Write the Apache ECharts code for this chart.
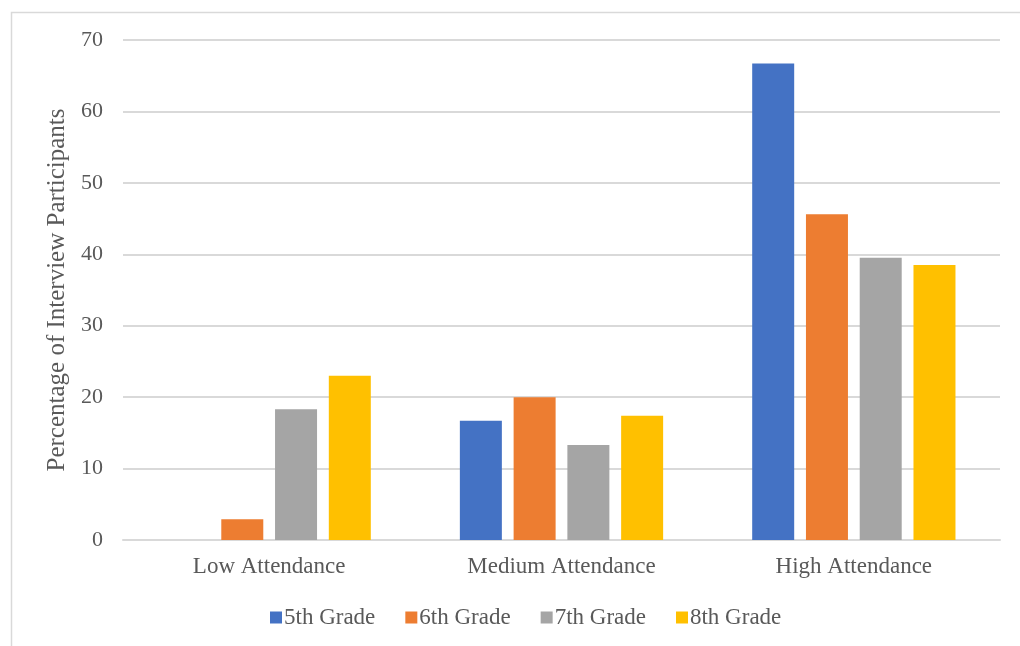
<!DOCTYPE html>
<html>
<head>
<meta charset="utf-8">
<script src="https://cdn.jsdelivr.net/npm/echarts@6/dist/echarts.min.js"></script>
<style>
  html, body { margin: 0; padding: 0; background: #fff; }
  #chart { width: 1020px; height: 646px; }
</style>
</head>
<body>
<div id="chart"></div>
<script>
// Attendance groups along the x axis
const categories = ['Low Attendance', 'Medium Attendance', 'High Attendance'];
// Percentage of interview participants per grade
const grade5 = [0, 16.7, 66.7];
const grade6 = [2.9, 20.0, 45.6];
const grade7 = [18.3, 13.3, 39.5];
const grade8 = [23.0, 17.4, 38.5];
const seriesNames = ['5th Grade', '6th Grade', '7th Grade', '8th Grade'];
const colors = ['#4472C4', '#ED7D31', '#A5A5A5', '#FFC000'];

const font = '"Liberation Serif", "DejaVu Serif", serif';
const chart = echarts.init(document.getElementById('chart'));

const seriesData = [grade5, grade6, grade7, grade8];

chart.setOption({
  animation: false,
  color: colors,
  textStyle: { fontFamily: font },
  graphic: [{
    type: 'rect',
    shape: { x: 11.5, y: 12.5, width: 1040, height: 680 },
    style: { fill: 'none', stroke: '#d9d9d9', lineWidth: 1.5 },
    z: -1
  }],
  grid: { left: 123, right: 20, top: 40, bottom: 106 },
  legend: {
    top: 601,
    left: 265,
    icon: 'rect',
    itemWidth: 12,
    itemHeight: 12,
    itemGap: 30,
    data: seriesNames,
    textStyle: { fontFamily: font, fontSize: 23, color: '#595959', padding: [0, 0, 0, -3] }
  },
  xAxis: {
    type: 'category',
    data: categories,
    axisLine: { show: true, lineStyle: { color: '#d9d9d9', width: 2 } },
    axisTick: { show: false },
    axisLabel: { fontFamily: font, fontSize: 23, color: '#595959', margin: 15 }
  },
  yAxis: {
    type: 'value',
    min: 0,
    max: 70,
    interval: 10,
    name: 'Percentage of Interview Participants',
    nameLocation: 'middle',
    nameGap: 53,
    nameTextStyle: { fontFamily: font, fontSize: 25, color: '#595959' },
    axisLine: { show: false },
    axisTick: { show: false },
    axisLabel: { fontFamily: font, fontSize: 22, color: '#595959', margin: 20 },
    splitLine: { lineStyle: { color: '#d9d9d9', width: 2 } }
  },
  series: seriesNames.map((name, i) => ({
    name,
    type: 'bar',
    data: seriesData[i],
    barWidth: 42,
    barGap: '28%',
    itemStyle: { color: colors[i] }
  }))
});
</script>
</body>
</html>
